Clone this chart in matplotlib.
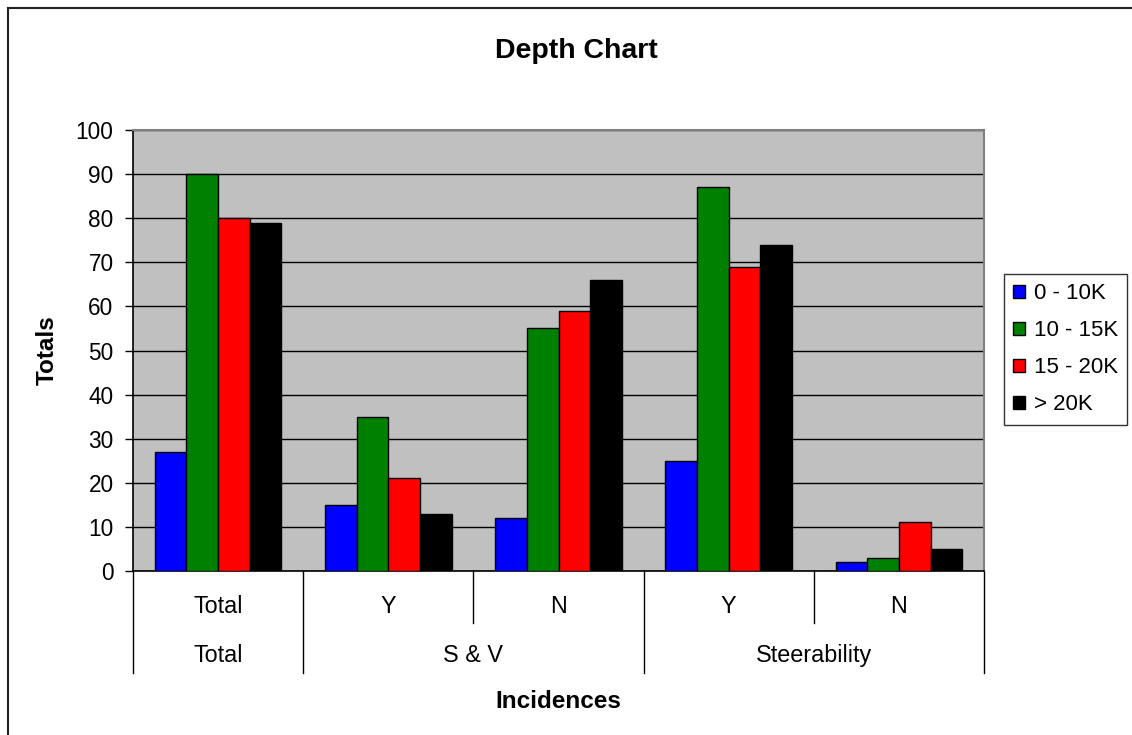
import numpy as np
import matplotlib
matplotlib.use('Agg')
import matplotlib.pyplot as plt
from matplotlib.lines import Line2D
import matplotlib.transforms as mtransforms

plt.rcParams['font.family'] = ['Liberation Sans', 'DejaVu Sans']

# depth ranges (series) and incidence groups
series_names = ['0 - 10K', '10 - 15K', '15 - 20K', '> 20K']
series_colors = ['#0000FF', '#008000', '#FF0000', '#000000']
sub_labels = ['Total', 'Y', 'N', 'Y', 'N']
outer_labels = ['Total', 'S & V', 'Steerability']
outer_spans = [1, 2, 2]

shallow = [27, 15, 12, 25, 2]
mid = [90, 35, 55, 87, 3]
deep = [80, 21, 59, 69, 11]
deepest = [79, 13, 66, 74, 5]
values = [shallow, mid, deep, deepest]

W, H = 1132, 735
fig = plt.figure(figsize=(W / 100, H / 100), dpi=100)
ax = fig.add_axes([133 / W, 1 - 571 / H, (984 - 133) / W, (571 - 130) / H])
ax.set_facecolor('#C0C0C0')

x = np.arange(len(sub_labels))
bw = 0.186
for i, (name, vals, col) in enumerate(zip(series_names, values, series_colors)):
    ax.bar(x + (i - 1.5) * bw, vals, bw, color=col, edgecolor='black',
           linewidth=1.0, label=name, zorder=3)

ax.set_xlim(-0.5, len(sub_labels) - 0.5)
ax.set_ylim(0, 100)
ax.set_yticks(range(0, 101, 10))
ax.yaxis.grid(True, color='black', linewidth=1.0, zorder=0)
ax.set_axisbelow(True)
ax.tick_params(axis='y', direction='out', length=6, width=1, pad=8,
               labelsize=16.3, color='black')
ax.set_xticks([])
for s in ['top', 'right']:
    ax.spines[s].set_color('#808080')
    ax.spines[s].set_linewidth(1.5)
for s in ['left', 'bottom']:
    ax.spines[s].set_color('black')
    ax.spines[s].set_linewidth(1.2)

# two-level category axis below the plot
trans = mtransforms.blended_transform_factory(ax.transData, ax.transAxes)
for xi, lab in zip(x, sub_labels):
    ax.text(xi, -0.0952, lab, transform=trans, ha='center', va='baseline',
            fontsize=16.8)

inner_depth = -0.118
outer_depth = -0.231
edges = np.concatenate([[0], np.cumsum(outer_spans)]) - 0.5
for k in range(len(sub_labels) + 1):
    b = k - 0.5
    depth = outer_depth if b in edges else inner_depth
    ax.add_line(Line2D([b, b], [0, depth], transform=trans, color='black',
                       linewidth=1.0, clip_on=False))
for lab, lo, hi in zip(outer_labels, edges[:-1], edges[1:]):
    ax.text((lo + hi) / 2, -0.2063, lab, transform=trans, ha='center',
            va='baseline', fontsize=16.8)

fig.text(576 / W, 1 - 58 / H, 'Depth Chart', ha='center', va='baseline',
         fontsize=20.5, fontweight='bold')
fig.text(558 / W, 1 - 708 / H, 'Incidences', ha='center', va='baseline',
         fontsize=17.5, fontweight='bold')
fig.text(47 / W, 1 - 350 / H, 'Totals', ha='center', va='center',
         rotation=90, fontsize=17.5, fontweight='bold')

leg = ax.legend(loc='upper left', bbox_to_anchor=(1004 / W, 1 - 274 / H),
                bbox_transform=fig.transFigure, fontsize=16, frameon=True,
                fancybox=False, edgecolor='black', borderaxespad=0,
                handlelength=0.52, handleheight=0.52, handletextpad=0.4,
                labelspacing=0.72, borderpad=0.42)
leg.get_frame().set_linewidth(1.0)

# outer chart border
fig.add_artist(Line2D([8 / W, 1], [1 - 8 / H, 1 - 8 / H],
                      transform=fig.transFigure, color='#222222', linewidth=1.5))
fig.add_artist(Line2D([8 / W, 8 / W], [0, 1 - 8 / H],
                      transform=fig.transFigure, color='#222222', linewidth=1.5))

fig.savefig('out.png', dpi=100, facecolor='white')
